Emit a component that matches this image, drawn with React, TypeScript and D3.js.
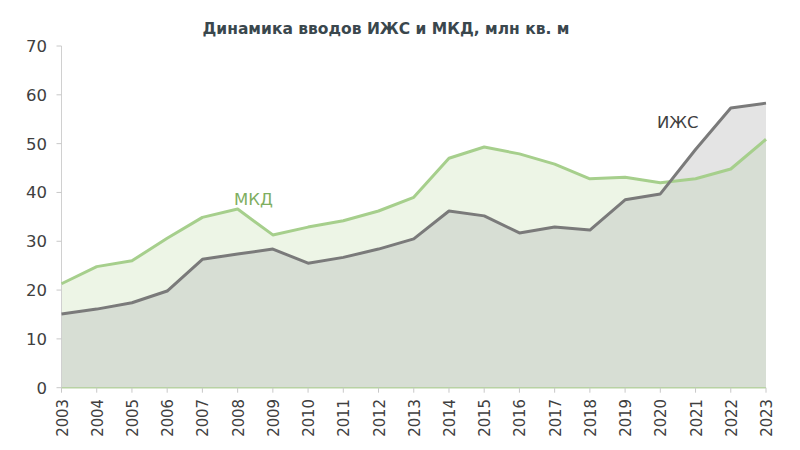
import React from "react";
import * as d3 from "d3";

const years = [2003,2004,2005,2006,2007,2008,2009,2010,2011,2012,2013,2014,2015,2016,2017,2018,2019,2020,2021,2022,2023];
const izhs = [15.1,16.1,17.4,19.8,26.3,27.4,28.4,25.5,26.7,28.4,30.5,36.2,35.2,31.7,32.9,32.3,38.5,39.7,48.8,57.3,58.3];
const mkd = [21.3,24.8,26.0,30.6,34.9,36.6,31.3,32.9,34.2,36.2,39.0,47.0,49.3,47.9,45.8,42.8,43.1,42.0,42.8,44.8,50.9];
const yTicks = [0,10,20,30,40,50,60,70];
const title = "Динамика вводов ИЖС и МКД, млн кв. м";

const W = 800, H = 450;
const FONT = "'DejaVu Sans', Verdana, sans-serif";

export default function App() {
  const x = d3.scaleLinear().domain([2003, 2023]).range([61.5, 766]);
  const y = d3.scaleLinear().domain([0, 70]).range([387.7, 46]);

  const idx = years.map((_, i) => i);
  const areaI = d3.area<number>().x(i => x(years[i])).y0(y(0)).y1(i => y(izhs[i]));
  const areaM = d3.area<number>().x(i => x(years[i])).y0(y(0)).y1(i => y(mkd[i]));
  const lineI = d3.line<number>().x(i => x(years[i])).y(i => y(izhs[i]));
  const lineM = d3.line<number>().x(i => x(years[i])).y(i => y(mkd[i]));

  return (
    <svg width={W} height={H} style={{ display: "block", position: "absolute", left: 0, top: 0, background: "#fff" }}>
      <defs>
        <clipPath id="clipM">
          <path d={areaM(idx) || ""} />
        </clipPath>
      </defs>
      <text x={386} y={34} textAnchor="middle" fontFamily={FONT} fontWeight="bold" fontSize={15.5} fill="#3a474d">{title}</text>

      <path d={areaI(idx) || ""} fill="#e4e4e4" />
      <path d={areaM(idx) || ""} fill="#edf5e6" />
      <path d={areaI(idx) || ""} fill="#d7ded4" clipPath="url(#clipM)" />

      {/* y axis */}
      <line x1={x(2003)} x2={x(2003)} y1={y(70)} y2={y(0)} stroke="#d0d0d0" strokeWidth={1} />
      {yTicks.map(t => (
        <g key={t}>
          <line x1={x(2003) - 5} x2={x(2003)} y1={y(t)} y2={y(t)} stroke="#c8c8c8" />
          <text x={47} y={y(t)} dy="0.36em" textAnchor="end" fontFamily={FONT} fontSize={16.5} fill="#404040">{t}</text>
        </g>
      ))}

      {/* x axis */}
      <line x1={x(2003)} x2={x(2023)} y1={y(0)} y2={y(0)} stroke="#b8d2a4" strokeWidth={1.5} />
      {years.map(yr => (
        <g key={yr}>
          <line x1={x(yr)} x2={x(yr)} y1={y(0)} y2={y(0) + 5} stroke="#c8c8c8" />
          <text transform={`translate(${x(yr) + 6},399) rotate(-90)`} textAnchor="end" fontFamily="'DejaVu Sans Condensed', 'DejaVu Sans', sans-serif" fontSize={16.5} fill="#404040">{yr}</text>
        </g>
      ))}

      <path d={lineM(idx) || ""} fill="none" stroke="#a6cf8c" strokeWidth={3} strokeLinejoin="round" />
      <path d={lineI(idx) || ""} fill="none" stroke="#7a7a7a" strokeWidth={3} strokeLinejoin="round" />

      <text x={234} y={205} fontFamily={FONT} fontSize={16.5} fill="#7fae5f">МКД</text>
      <text x={657} y={128} fontFamily={FONT} fontSize={16.5} fill="#404040">ИЖС</text>
    </svg>
  );
}
